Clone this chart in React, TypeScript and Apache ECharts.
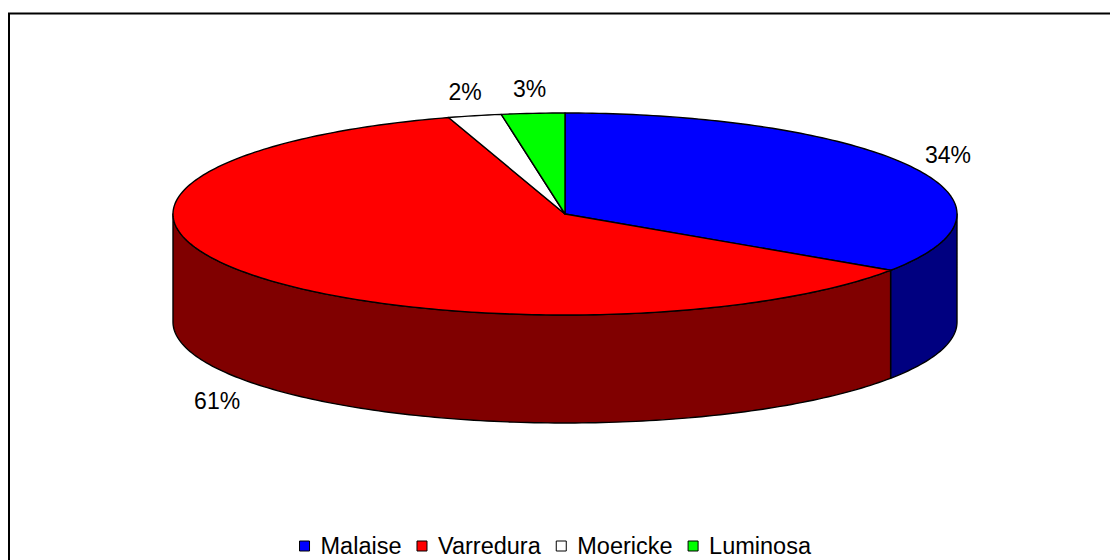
import React, { useEffect, useRef } from "react";
import * as echarts from "echarts";

const categories = ["Malaise", "Varredura", "Moericke", "Luminosa"];
const values = [34.4, 60.8, 2.2, 2.6];
const topColors = ["#0000FF", "#FF0000", "#FFFFFF", "#00FF00"];
const sideColors = ["#000080", "#800000", "#808080", "#008000"];

const CX = 565;
const CY = 214;
const RX = 392;
const RY = 101;
const DEPTH = 108;
const FONT = "23px Arial, 'Liberation Sans', sans-serif";

function pt(theta: number, dy: number): number[] {
  const r = (theta * Math.PI) / 180;
  return [CX + RX * Math.sin(r), CY - RY * Math.cos(r) + dy];
}

function arc(a0: number, a1: number, dy: number): number[][] {
  const pts: number[][] = [];
  const n = Math.max(2, Math.ceil(Math.abs(a1 - a0) / 1));
  for (let i = 0; i <= n; i++) pts.push(pt(a0 + ((a1 - a0) * i) / n, dy));
  return pts;
}

export default function App() {
  const ref = useRef<HTMLDivElement>(null);
  useEffect(() => {
    document.body.style.margin = "0";
    const chart = echarts.init(ref.current!, null, { renderer: "svg" });
    const total = values.reduce((a, b) => a + b, 0);
    const starts: number[] = [];
    let acc = 0;
    values.forEach((v) => {
      starts.push((acc / total) * 360);
      acc += v;
    });

    const renderItem = (params: any) => {
      const i = params.dataIndex;
      const a0 = starts[i];
      const a1 = a0 + (values[i] / total) * 360;
      const children: any[] = [];
      const w0 = Math.max(a0, 90);
      const w1 = Math.min(a1, 270);
      if (w1 > w0) {
        const top = arc(w0, w1, 0);
        const bot = arc(w1, w0, DEPTH);
        children.push({
          type: "polygon",
          z2: 1,
          shape: { points: top.concat(bot) },
          style: { fill: sideColors[i], stroke: "#000", lineWidth: 1.4, lineJoin: "round" },
        });
      }
      children.push({
        type: "polygon",
        z2: 2,
        shape: { points: [[CX, CY]].concat(arc(a0, a1, 0)) },
        style: { fill: topColors[i], stroke: "#000", lineWidth: 1.4, lineJoin: "round" },
      });
      const mid = (((a0 + a1) / 2) * Math.PI) / 180;
      const front = Math.cos(mid) < 0;
      const lx = CX + (RX + 42) * Math.sin(mid);
      const ly = CY - (RY + 24) * Math.cos(mid) + (front ? DEPTH + 4 : 0);
      children.push({
        type: "text",
        z2: 5,
        style: {
          text: Math.round((values[i] / total) * 100) + "%",
          x: lx,
          y: ly,
          align: "center",
          verticalAlign: "middle",
          font: FONT,
          fill: "#000",
        },
      });
      return { type: "group", children };
    };

    chart.setOption({
      animation: false,
      backgroundColor: "#fff",
      legend: {
        data: categories,
        left: "center",
        top: 529,
        icon: "rect",
        itemWidth: 10,
        itemHeight: 10,
        itemGap: 15,
        selectedMode: false,
        itemStyle: { borderColor: "#000", borderWidth: 1 },
        textStyle: {
          fontSize: 23.5,
          lineHeight: 22,
          fontFamily: "Arial, 'Liberation Sans', sans-serif",
          color: "#000",
          padding: [0, 0, 0, 6],
        },
      },
      graphic: [
        { type: "line", shape: { x1: 9, y1: 13, x2: 9, y2: 560 }, style: { stroke: "#000", lineWidth: 2 } },
        { type: "line", shape: { x1: 8, y1: 13.5, x2: 1110, y2: 13.5 }, style: { stroke: "#000", lineWidth: 2 } },
      ],
      series: [
        {
          type: "custom",
          coordinateSystem: "none",
          renderItem,
          data: values.map((v, i) => ({ name: categories[i], value: v })),
          silent: true,
        },
        {
          type: "pie",
          radius: [0, 0],
          center: [-200, -200],
          silent: true,
          label: { show: false },
          labelLine: { show: false },
          data: values.map((v, i) => ({ name: categories[i], value: v, itemStyle: { color: topColors[i] } })),
        },
      ],
    });
    return () => chart.dispose();
  }, []);
  return <div ref={ref} style={{ width: 1110, height: 560 }} />;
}
